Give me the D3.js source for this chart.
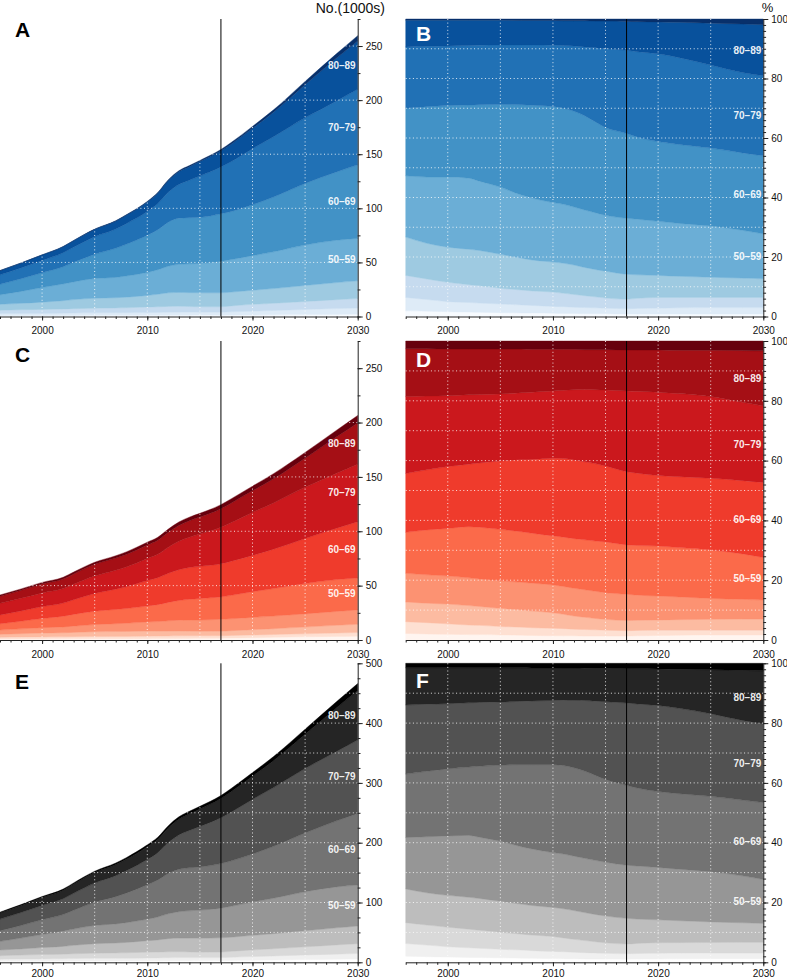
<!DOCTYPE html>
<html>
<head>
<meta charset="utf-8">
<script src="https://cdn.jsdelivr.net/npm/d3@7"></script>
<style>
  body { margin: 0; background: #fff; }
  svg { display: block; font-family: "Liberation Sans", Arial, Helvetica, sans-serif; }
</style>
</head>
<body>
<svg id="chart" width="787" height="979"></svg>
<script>
// ---------------- DATA ----------------
const years = [1996, 1998, 2000, 2002, 2003, 2005, 2007, 2008, 2010, 2011, 2012, 2013, 2014, 2015, 2017, 2018, 2020, 2022, 2025, 2028, 2030];
const ageGroups = ["<20", "20–29", "30–39", "40–49", "50–59", "60–69", "70–79", "80–89", "90+"];
const labelledGroups = ["50–59", "60–69", "70–79", "80–89"];

const menTotal   = [42.5, 49.5, 57, 64.7, 70.3, 80.8, 88.5, 94, 106.4, 114.7, 126.4, 134.7, 139.5, 144.3, 154.4, 161, 175.7, 191, 217.3, 243, 259.6];
const womenTotal = [41.4, 47, 53, 57.7, 62.5, 71.5, 77.5, 81, 90, 94.5, 102, 108.5, 113, 116.5, 124.5, 130, 141.5, 153, 172.5, 193, 206.5];

// share of each age group (%) (one row per age group)
const menShares = [
  [1.9, 1.8, 1.6, 1.5, 1.4, 1.3, 1.2, 1.2, 1.1, 1.0, 1.0, 0.9, 0.9, 0.9, 0.8, 0.8, 0.8, 0.8, 0.8, 0.8, 0.8],          // <20
  [4.5, 3.9, 3.4, 3.2, 3.1, 2.9, 2.7, 2.5, 2.3, 2.3, 2.1, 2.1, 2.0, 1.9, 1.8, 1.9, 2.0, 2.1, 2.2, 2.2, 2.2],          // 20–29
  [7.4, 6.9, 6.5, 6.0, 5.8, 5.3, 5.0, 4.9, 4.8, 4.5, 4.3, 4.0, 3.7, 3.4, 3.2, 3.4, 3.6, 3.5, 3.4, 3.4, 3.4],          // 30–39
  [12.9, 12.0, 11.8, 11.9, 11.9, 11.4, 10.7, 10.4, 10.1, 10.1, 9.9, 9.5, 9.2, 9.0, 8.4, 7.9, 7.4, 7.1, 6.8, 6.5, 6.3], // 40–49
  [20.6, 22.3, 23.6, 23.9, 23.3, 22.6, 21.2, 20.8, 20.0, 19.8, 19.5, 19.3, 19.1, 18.8, 18.8, 18.7, 18.2, 17.8, 17.2, 16.1, 15.1], // 50–59
  [22.7, 23.6, 24.0, 24.6, 25.7, 27.8, 30.4, 31.2, 32.3, 32.3, 32.2, 31.7, 30.6, 29.5, 28.5, 27.6, 26.8, 26.5, 26.2, 26.0, 26.2], // 60–69
  [20.6, 20.3, 20.0, 20.0, 20.0, 20.0, 20.1, 20.3, 20.6, 21.1, 21.9, 23.1, 24.8, 26.5, 28.0, 28.7, 29.5, 29.2, 27.9, 27.0, 26.9], // 70–79
  [9.0, 8.8, 8.7, 8.5, 8.4, 8.3, 8.2, 8.2, 8.3, 8.3, 8.5, 8.8, 9.0, 9.3, 9.7, 10.1, 10.7, 11.9, 14.1, 16.3, 17.2],      // 80–89
  [0.4, 0.4, 0.4, 0.4, 0.4, 0.4, 0.5, 0.5, 0.5, 0.6, 0.6, 0.6, 0.7, 0.7, 0.8, 0.9, 1.0, 1.1, 1.4, 1.7, 1.9]           // 90+
];
// share of each age group (%)
const womenShares = [
  [2.2, 2.0, 1.9, 1.8, 1.8, 1.7, 1.6, 1.5, 1.4, 1.4, 1.4, 1.3, 1.3, 1.3, 1.3, 1.4, 1.5, 1.6, 1.7, 1.7, 1.7],
  [3.9, 3.8, 3.5, 3.2, 3.1, 2.8, 2.7, 2.6, 2.5, 2.4, 2.2, 2.2, 2.1, 2.0, 1.8, 1.8, 1.8, 1.7, 1.6, 1.6, 1.6],
  [6.6, 6.5, 6.6, 6.5, 6.3, 6.1, 5.7, 5.6, 5.2, 4.8, 4.4, 4.1, 3.8, 3.6, 3.4, 3.4, 3.4, 3.5, 3.6, 3.7, 3.7],
  [9.6, 9.5, 9.4, 9.3, 9.2, 9.2, 9.3, 9.3, 9.3, 9.3, 9.3, 9.2, 9.1, 8.9, 8.8, 8.4, 8.0, 7.6, 7.0, 6.6, 6.4],
  [13.7, 15.0, 15.9, 17.1, 17.3, 17.2, 16.9, 16.7, 16.4, 16.5, 16.6, 16.7, 16.8, 17.0, 16.5, 16.6, 16.7, 16.5, 16.2, 15.2, 14.2],
  [19.7, 20.1, 20.7, 20.9, 21.5, 22.9, 24.1, 24.7, 26.0, 26.3, 26.3, 26.1, 25.9, 25.4, 24.5, 24.2, 23.6, 23.7, 24.0, 24.5, 25.1],
  [25.7, 24.7, 23.7, 23.2, 22.9, 22.4, 22.4, 22.5, 22.5, 22.8, 23.5, 24.2, 24.7, 25.4, 27.0, 27.4, 27.9, 27.8, 27.3, 26.2, 25.6],
  [16.0, 15.8, 15.6, 15.3, 15.2, 15.0, 14.6, 14.3, 13.9, 13.7, 13.5, 13.3, 13.4, 13.5, 13.7, 13.8, 14.1, 14.5, 15.5, 17.3, 18.4],
  [2.6, 2.6, 2.7, 2.7, 2.7, 2.7, 2.7, 2.8, 2.8, 2.8, 2.8, 2.9, 2.9, 2.9, 3.0, 3.0, 3.0, 3.1, 3.1, 3.2, 3.3]
];

const projectionYear = 2017;
const xTickLabels = [2000, 2010, 2020, 2030];
const xGridYears = [2000, 2005, 2010, 2015, 2020, 2025];
const countTicks = [0, 50, 100, 150, 200, 250];
const totalTicks = [0, 100, 200, 300, 400, 500];
const pctTicks = [0, 20, 40, 60, 80, 100];

// ---------------- DERIVED ROWS ----------------
function buildRows(total, shares) {
  return years.map((yr, i) => {
    const s = d3.sum(shares, a => a[i]);
    const row = { year: yr };
    ageGroups.forEach((g, k) => { row[g] = total[i] * shares[k][i] / s; });
    return row;
  });
}
const menRows = buildRows(menTotal, menShares);
const womenRows = buildRows(womenTotal, womenShares);
const allRows = menRows.map((r, i) => {
  const o = { year: r.year };
  ageGroups.forEach(g => { o[g] = r[g] + womenRows[i][g]; });
  return o;
});

// ---------------- LAYOUT ----------------
const svg = d3.select("#chart");
const FONT = '"Liberation Sans", Arial, Helvetica, sans-serif';
const leftX = [0, 357.7], rightX = [405.7, 763.3];
const rowsY = [[19, 316.5], [341, 640], [663.3, 962.3]];
const xLabelPad = [6.5, 6.5, 4];

const panels = [
  { rows: menRows,   pal: d3.schemeBlues[9], pct: false, row: 0, xr: leftX,  max: 275, major: countTicks, minor: 25, grid: 50, letter: "A", lx: 15,  ly: 37,  lc: "#000" },
  { rows: menRows,   pal: d3.schemeBlues[9], pct: true,  row: 0, xr: rightX, letter: "B", lx: 416, ly: 41,  lc: "#fff" },
  { rows: womenRows, pal: d3.schemeReds[9],  pct: false, row: 1, xr: leftX,  max: 275, major: countTicks, minor: 25, grid: 50, letter: "C", lx: 15,  ly: 362, lc: "#000" },
  { rows: womenRows, pal: d3.schemeReds[9],  pct: true,  row: 1, xr: rightX, letter: "D", lx: 416, ly: 367, lc: "#fff" },
  { rows: allRows,   pal: d3.schemeGreys[9], pct: false, row: 2, xr: leftX,  max: 500, major: totalTicks, minor: 25, grid: 50, letter: "E", lx: 15,  ly: 689, lc: "#000" },
  { rows: allRows,   pal: d3.schemeGreys[9], pct: true,  row: 2, xr: rightX, letter: "F", lx: 416, ly: 688, lc: "#fff" }
];

panels.forEach(p => {
  p.yr = rowsY[p.row];
  const g = svg.append("g");
  const x = d3.scaleLinear().domain([1996, 2030]).range(p.xr);
  let y, majorVals, minorVals, gridVals, fmt;
  if (p.pct) {
    y = d3.scaleLinear().domain([0, 1]).range([p.yr[1], p.yr[0]]);
    majorVals = pctTicks.map(v => v / 100);
    minorVals = d3.range(0, 101, 2).map(v => v / 100);
    gridVals = d3.range(10, 100, 10).map(v => v / 100);
    fmt = d => Math.round(d * 100);
  } else {
    y = d3.scaleLinear().domain([0, p.max]).range([p.yr[1], p.yr[0]]);
    majorVals = p.major;
    minorVals = d3.range(0, p.max + 0.1, p.minor);
    gridVals = d3.range(p.grid, p.max, p.grid);
    fmt = d => d;
  }
  const stack = d3.stack().keys(ageGroups).offset(p.pct ? d3.stackOffsetExpand : d3.stackOffsetNone);
  const series = stack(p.rows);
  const area = d3.area()
    .x(d => x(d.data.year))
    .y0(d => y(d[0]))
    .y1(d => y(d[1]))
    .curve(d3.curveMonotoneX);

  g.selectAll("path.layer").data(series).join("path")
    .attr("class", "layer")
    .attr("d", area)
    .attr("fill", (d, i) => p.pal[i])
    .attr("stroke", (d, i) => p.pal[i])
    .attr("stroke-width", 0.4);

  // white dotted grid
  const grid = g.append("g").attr("stroke", "#fff").attr("stroke-width", 1)
    .attr("stroke-dasharray", "1,2.6").attr("opacity", 0.85);
  grid.selectAll("line.v").data(xGridYears).join("line")
    .attr("x1", d => x(d)).attr("x2", d => x(d))
    .attr("y1", p.yr[0]).attr("y2", p.yr[1]);
  grid.selectAll("line.h").data(gridVals).join("line")
    .attr("x1", p.xr[0]).attr("x2", p.xr[1])
    .attr("y1", d => y(d)).attr("y2", d => y(d));

  // projection line
  g.append("line")
    .attr("x1", x(projectionYear)).attr("x2", x(projectionYear))
    .attr("y1", p.yr[0]).attr("y2", p.yr[1])
    .attr("stroke", "#000").attr("stroke-width", 1);

  // x axis
  const xMinor = d3.axisBottom(x).tickValues(d3.range(1996, 2031, 1)).tickSize(2.5).tickSizeOuter(0).tickFormat("");
  const xMajor = d3.axisBottom(x).tickValues(xTickLabels).tickSize(4).tickSizeOuter(0).tickPadding(xLabelPad[p.row]).tickFormat(d3.format("d"));
  const gxm = g.append("g").attr("transform", `translate(0,${p.yr[1]})`).call(xMinor);
  const gxM = g.append("g").attr("transform", `translate(0,${p.yr[1]})`).call(xMajor);
  gxM.select(".domain").remove();

  // right y axis
  const yMinor = d3.axisRight(y).tickValues(minorVals).tickSize(2.8).tickSizeOuter(0).tickFormat("");
  const yMajor = d3.axisRight(y).tickValues(majorVals).tickSize(5).tickSizeOuter(0).tickPadding(3).tickFormat(fmt);
  const gym = g.append("g").attr("transform", `translate(${p.xr[1]},0)`).call(yMinor);
  const gyM = g.append("g").attr("transform", `translate(${p.xr[1]},0)`).call(yMajor);
  gyM.select(".domain").remove();

  [gxm, gxM, gym, gyM].forEach(a => {
    a.selectAll("path,line").attr("stroke", "#222");
    a.selectAll("text").attr("font-family", FONT).attr("font-size", 10).attr("fill", "#111");
  });

  // age-group labels at right end
  const last = p.rows.length - 1;
  series.filter(s => labelledGroups.includes(s.key)).forEach(s => {
    const d = s[last];
    g.append("text")
      .attr("x", p.xr[1] - 2)
      .attr("y", y((d[0] + d[1]) / 2))
      .attr("dy", "0.35em")
      .attr("text-anchor", "end")
      .attr("font-family", FONT).attr("font-weight", "bold").attr("font-size", 10)
      .attr("fill", "#fff").attr("fill-opacity", 0.92)
      .text(s.key);
  });

  // panel letter
  g.append("text")
    .attr("x", p.lx).attr("y", p.ly)
    .attr("font-family", FONT).attr("font-weight", "bold").attr("font-size", 21)
    .attr("fill", p.lc)
    .text(p.letter);
});

// axis titles
svg.append("text").attr("x", 385).attr("y", 12.5).attr("text-anchor", "end")
  .attr("font-family", FONT).attr("font-size", 14).attr("fill", "#111").text("No.(1000s)");
svg.append("text").attr("x", 767.5).attr("y", 12).attr("text-anchor", "middle")
  .attr("font-family", FONT).attr("font-size", 13).attr("fill", "#111").text("%");
</script>
</body>
</html>
